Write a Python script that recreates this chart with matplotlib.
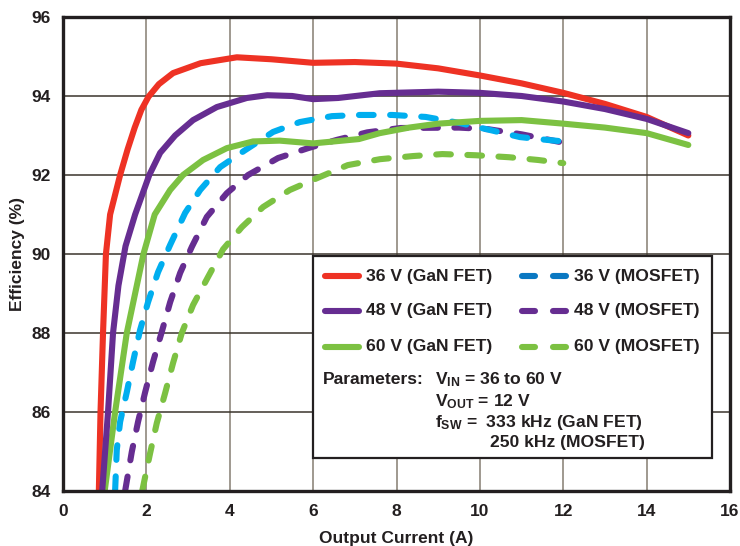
"""
GaN FET vs MOSFET buck converter efficiency curves.
"""

import matplotlib
matplotlib.use("Agg")
import matplotlib.pyplot as plt
from matplotlib.lines import Line2D
from matplotlib.patches import Rectangle

# ── Data ───────────────────────────────────────────────────────────────────────

gan36_x = [0.86, 0.90, 0.96, 1.03, 1.13, 1.37, 1.55, 1.72, 1.88, 2.05, 2.3, 2.64, 3.3, 4.17, 5.0, 6.0, 7.0, 8.0, 9.0, 10.0, 11.0, 12.0, 13.0, 14.0, 15.0]
gan36_y = [84.0, 86.0, 88.0, 90.0, 91.0, 92.0, 92.65, 93.2, 93.65, 93.98, 94.3, 94.58, 94.83, 94.98, 94.93, 94.84, 94.86, 94.82, 94.7, 94.52, 94.32, 94.08, 93.8, 93.47, 93.0]

gan48_x = [0.94, 1.08, 1.2, 1.33, 1.5, 1.73, 2.07, 2.33, 2.69, 3.12, 3.69, 4.41, 4.9, 5.5, 6.0, 6.6, 7.6, 9.0, 10.0, 11.0, 12.0, 13.0, 14.0, 15.0]
gan48_y = [84.0, 86.0, 88.0, 89.2, 90.2, 91.0, 92.0, 92.56, 93.0, 93.39, 93.72, 93.95, 94.02, 94.0, 93.92, 93.95, 94.07, 94.11, 94.08, 94.0, 93.86, 93.67, 93.42, 93.06]

gan60_x = [1.0, 1.25, 1.53, 1.93, 2.2, 2.57, 2.88, 3.36, 3.93, 4.56, 5.2, 6.0, 7.1, 7.6, 8.3, 9.0, 10.0, 11.0, 12.0, 13.0, 14.0, 15.0]
gan60_y = [84.0, 86.0, 88.0, 90.0, 91.0, 91.62, 92.0, 92.38, 92.68, 92.85, 92.87, 92.8, 92.91, 93.06, 93.2, 93.3, 93.37, 93.39, 93.3, 93.2, 93.06, 92.76]

mos36_x = [1.25, 1.29, 1.37, 1.53, 1.68, 1.85, 2.04, 2.28, 2.57, 2.93, 3.29, 3.77, 4.37, 5.04, 5.68, 6.45, 7.12, 7.9, 8.7, 9.5, 10.2, 10.96, 11.5, 12.0]
mos36_y = [84.0, 85.04, 85.75, 86.5, 87.27, 88.08, 88.78, 89.54, 90.23, 91.04, 91.62, 92.2, 92.63, 93.09, 93.34, 93.49, 93.52, 93.52, 93.47, 93.32, 93.15, 92.96, 92.9, 92.85]

mos48_x = [1.49, 1.65, 1.8, 1.97, 2.16, 2.37, 2.57, 2.81, 3.09, 3.45, 3.93, 4.44, 5.16, 5.88, 6.57, 7.3, 8.1, 9.5, 10.2, 11.0, 11.9]
mos48_y = [84.0, 84.99, 85.75, 86.5, 87.27, 88.03, 88.78, 89.52, 90.18, 90.94, 91.54, 92.0, 92.43, 92.68, 92.89, 93.08, 93.19, 93.2, 93.16, 93.03, 92.84]

mos60_x = [1.90, 2.09, 2.25, 2.45, 2.64, 2.85, 3.12, 3.48, 3.84, 4.29, 4.8, 5.44, 6.16, 6.83, 7.6, 8.4, 9.1, 9.9, 10.7, 11.4, 12.0]
mos60_y = [84.0, 84.96, 85.72, 86.48, 87.24, 88.0, 88.71, 89.42, 90.12, 90.68, 91.19, 91.62, 91.95, 92.25, 92.4, 92.48, 92.53, 92.5, 92.45, 92.38, 92.3]

x_ticks = [0, 2, 4, 6, 8, 10, 12, 14, 16]
y_ticks = [84, 86, 88, 90, 92, 94, 96]

series_labels = ["36 V (GaN FET)", "48 V (GaN FET)", "60 V (GaN FET)",
                 "36 V (MOSFET)", "48 V (MOSFET)", "60 V (MOSFET)"]

# ── Style ──────────────────────────────────────────────────────────────────────

RED    = "#ee3224"
PURPLE = "#662d91"
GREEN  = "#7cc142"
CYAN   = "#00aeef"
BLUE   = "#0a78c2"   # legend sample for 36 V MOSFET is darker than the curve
FRAME  = "#231f20"
TEXT   = "#231f20"

plt.rcParams.update({
    "font.family":      ["Liberation Sans", "DejaVu Sans"],
    "font.weight":      "bold",
    "axes.labelweight": "bold",
    "mathtext.fontset": "custom",
    "mathtext.rm":      "Liberation Sans:bold",
    "mathtext.it":      "Liberation Sans:bold",
    "mathtext.bf":      "Liberation Sans:bold",
})

LW = 4.4
DASH = (2.4, 2.7)
FS_LEG = 12.6

fig = plt.figure(figsize=(7.4, 5.46), dpi=100)
ax = fig.add_axes([63 / 740, 1 - 491 / 546, 667 / 740, 474 / 546])

solid = dict(lw=LW, solid_capstyle="round", solid_joinstyle="round")
dashed = dict(lw=LW, dash_capstyle="round", dash_joinstyle="round", dashes=DASH)

ax.plot(mos60_x, mos60_y, color=GREEN, **dashed)
ax.plot(mos48_x, mos48_y, color=PURPLE, **dashed)
ax.plot(mos36_x, mos36_y, color=CYAN, **dashed)
ax.plot(gan60_x, gan60_y, color=GREEN, **solid)
ax.plot(gan36_x, gan36_y, color=RED, **solid)
ax.plot(gan48_x, gan48_y, color=PURPLE, **solid)

ax.set_xlim(0, 16)
ax.set_ylim(84, 96)
ax.set_xticks(x_ticks)
ax.set_yticks(y_ticks)
ax.tick_params(length=0, labelsize=12.5, pad=9, colors=TEXT)
for lbl in ax.get_xticklabels() + ax.get_yticklabels():
    lbl.set_fontweight("bold")
ax.xaxis.grid(True, color="#857d72", lw=1.1)
ax.yaxis.grid(True, color="#3b342c", lw=1.1)
ax.set_axisbelow(True)
for s in ax.spines.values():
    s.set_linewidth(2.4)
    s.set_color(FRAME)

ax.set_xlabel("Output Current (A)", fontsize=12.5, labelpad=9, color=TEXT)
ax.set_ylabel("Efficiency (%)", fontsize=12.5, color=TEXT)
ax.yaxis.set_label_coords((25 - 63) / 667, 0.5)

# ── Legend box (drawn by hand, pixel layout from the reference) ────────────────

def px(x, y):
    """Figure pixel -> axes fraction."""
    return (x - 63) / 667, (491 - y) / 474

x0, y0 = px(313, 458)
x1, y1 = px(712, 256)
ax.add_patch(Rectangle((x0, y0), x1 - x0, y1 - y0, transform=ax.transAxes,
                       facecolor="white", edgecolor=FRAME, lw=1.6, zorder=5))

rows_y = [276, 311, 347]
for label, color, ry in zip(series_labels[:3], [RED, PURPLE, GREEN], rows_y):
    (a, b), (c, _) = px(325, ry), px(359, ry)
    ax.add_line(Line2D([a, c], [b, b], transform=ax.transAxes, color=color,
                       lw=LW, solid_capstyle="round", zorder=6))
    ax.text(px(366, ry)[0], b, label, transform=ax.transAxes, fontsize=FS_LEG,
            va="center", ha="left", color=TEXT, zorder=6)

for label, color, ry in zip(series_labels[3:], [BLUE, PURPLE, GREEN], rows_y):
    for sx0, sx1 in [(522, 535), (553, 566)]:
        (a, b), (c, _) = px(sx0, ry), px(sx1, ry)
        ax.add_line(Line2D([a, c], [b, b], transform=ax.transAxes, color=color,
                           lw=LW, solid_capstyle="round", zorder=6))
    ax.text(px(574, ry)[0], b, label, transform=ax.transAxes, fontsize=FS_LEG,
            va="center", ha="left", color=TEXT, zorder=6)

param_lines = [
    (323, 380, "Parameters:"),
    (435, 380, r"V$_{\mathrm{IN}}$ = 36 to 60 V"),
    (435, 402, r"V$_{\mathrm{OUT}}$ = 12 V"),
    (435, 423, r"f$_{\mathrm{SW}}$ =  333 kHz (GaN FET)"),
    (490, 443, "250 kHz (MOSFET)"),
]
for tx, ty, txt in param_lines:
    a, b = px(tx, ty)
    ax.text(a, b, txt, transform=ax.transAxes, fontsize=FS_LEG,
            va="center", ha="left", color=TEXT, zorder=6)

fig.savefig("out.png", dpi=100, facecolor="white")
